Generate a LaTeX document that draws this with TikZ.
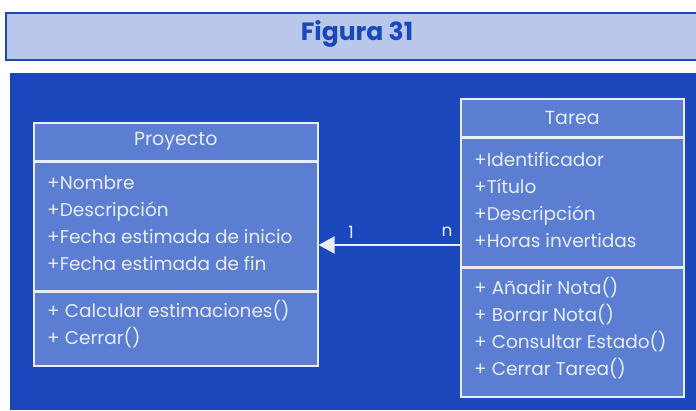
\documentclass[tikz,border=0pt]{standalone}
\usepackage{fontspec}
\setmainfont{Poppins}
\usepackage{xcolor}
\usepackage{tikz}
\usetikzlibrary{arrows.meta, positioning}

\definecolor{figblue}{HTML}{1A48BC}
\definecolor{figband}{HTML}{B9C8EA}
\definecolor{boxfill}{HTML}{5B7ED2}
\definecolor{boxline}{HTML}{E8EDF8}

\begin{document}
\begin{tikzpicture}[x=1pt, y=-1pt,
    classtitle/.style={rectangle, draw=boxline, fill=boxfill, line width=1.6pt, minimum height=38pt, inner sep=0pt, text centered, text=boxline, font=\fontsize{19}{19}\selectfont},
    classpart/.style={rectangle, draw=boxline, fill=boxfill, line width=1.6pt, inner sep=0pt, anchor=north},
    members/.style={anchor=north west, inner sep=0pt, align=left, text=boxline, font=\fontsize{18.5}{27}\selectfont},
    mult/.style={text=boxline, font=\fontsize{17}{17}\selectfont, inner sep=0pt},
    line/.style={draw=boxline, line width=2pt, -{Triangle[length=16pt, width=17pt, fill=boxline]}}]

    \useasboundingbox (0,0) rectangle (696,410);
    \fill [figblue] (10,73) rectangle (696,410);
    \draw [fill=figband, draw=figblue, line width=2.5pt] (6,13) rectangle (700,60);
    \node [font=\fontsize{25}{25}\selectfont\bfseries, text=figblue] (caption) at (357,34) {Figura 31};

    % Proyecto
    \node [classtitle, minimum width=284pt, anchor=north west] (proytitle) at (33,122) {Proyecto};
    \node [classpart, minimum width=284pt, minimum height=128pt, below=0pt of proytitle] (proyattr) {};
    \node [classpart, minimum width=284pt, minimum height=74pt, below=0pt of proyattr] (proyops) {};
    \node [members] (proyattrtxt) at ([xshift=14pt, yshift=-14pt]proyattr.north west)
        {+Nombre\\+Descripción\\+Fecha estimada de inicio\\+Fecha estimada de fin};
    \node [members] (proyopstxt) at ([xshift=14pt, yshift=-9pt]proyops.north west)
        {+ Calcular estimaciones()\\+ Cerrar()};

    % Tarea
    \node [classtitle, minimum width=223pt, anchor=north west] (taretitle) at (460,98) {Tarea};
    \node [classpart, minimum width=223pt, minimum height=128pt, below=0pt of taretitle] (tareattr) {};
    \node [classpart, minimum width=223pt, minimum height=129pt, below=0pt of tareattr] (tareops) {};
    \node [members] (tareattrtxt) at ([xshift=14pt, yshift=-14.5pt]tareattr.north west)
        {+Identificador\\+Título\\+Descripción\\+Horas invertidas};
    \node [members] (tareopstxt) at ([xshift=14pt, yshift=-10pt]tareops.north west)
        {+ Añadir Nota()\\+ Borrar Nota()\\+ Consultar Estado()\\+ Cerrar Tarea()};

    % association
    \coordinate (assocy) at (0,245);
    \path [line] (assocy -| tareattr.west) -- (assocy -| proyattr.east);
    \node [mult] (onemult) at (351,232) {1};
    \node [mult] (nmult) at (447,232) {n};
\end{tikzpicture}
\end{document}
